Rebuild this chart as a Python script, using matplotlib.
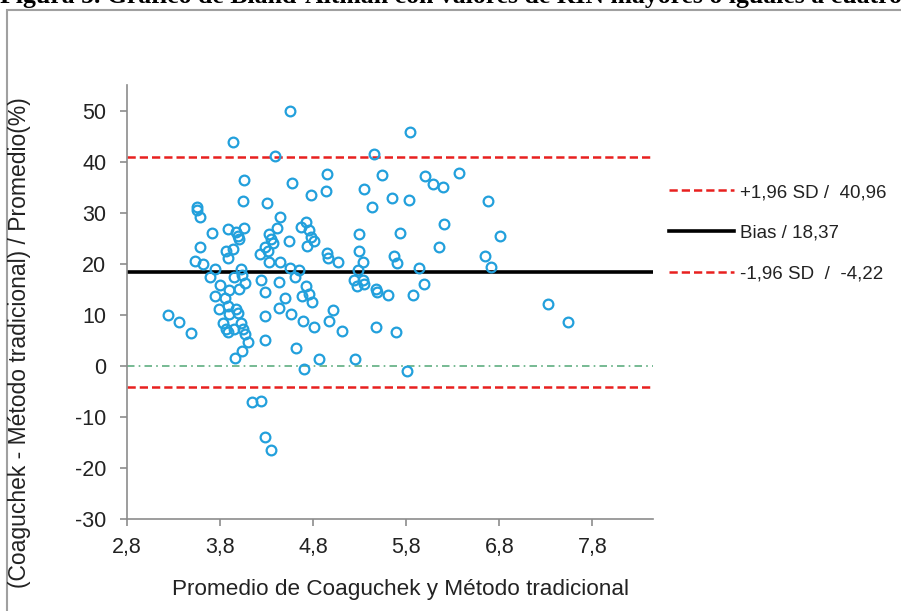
import numpy as np
import matplotlib
matplotlib.use("Agg")
import matplotlib.pyplot as plt
from matplotlib.patches import Rectangle

plt.rcParams['font.family'] = ['Liberation Sans', 'DejaVu Sans']

# promedio de ambos metodos (x) y diferencia porcentual (y)
promedio = [4.55, 3.94, 4.39, 5.45, 5.84, 4.06, 4.57, 4.95, 4.94, 4.78,
            5.35, 5.54, 5.65, 5.43, 5.83, 6.00, 6.09, 6.19, 6.37, 6.68,
            4.05, 4.30, 3.55, 3.55, 3.58, 4.44, 4.72, 4.67, 4.76, 4.78,
            4.81, 4.73, 4.54, 4.41, 4.33, 4.35, 4.37, 4.28, 4.23, 4.31,
            4.33, 4.44, 4.06, 3.88, 3.97, 3.99, 4.00, 3.71, 3.58, 3.94,
            3.86, 3.88, 3.53, 3.62, 6.21, 6.81, 5.29, 5.73, 6.15, 5.29,
            5.67, 5.70, 4.95, 4.96, 5.07, 5.34, 6.65, 6.71,
            3.74, 3.69, 4.02, 4.04, 3.95, 4.55, 4.60, 4.65, 5.94, 5.28,
            5.24, 5.33, 5.27, 5.35, 5.47, 5.49, 5.60, 5.87, 5.99, 4.24,
            4.43, 4.72, 4.07, 3.80, 4.00, 3.90,
            3.74, 3.85, 3.79, 3.88, 3.97, 3.90, 3.99, 3.83, 3.86, 3.88,
            3.95, 4.02, 4.05, 4.07, 4.10, 4.03, 3.96, 3.24, 3.36, 3.49,
            4.28, 4.50, 4.43, 4.56, 4.69, 4.28, 4.28, 4.61, 4.70, 4.68,
            4.76, 4.79, 5.01, 4.81, 4.97, 5.11, 4.86, 5.25, 5.47, 5.69,
            5.81, 7.32, 7.54, 4.14, 4.24, 4.28, 4.35]
diferencia = [49.9, 43.9, 41.0, 41.5, 45.8, 36.3, 35.9, 37.6, 34.3, 33.4,
              34.6, 37.4, 32.9, 31.1, 32.4, 37.1, 35.6, 35.0, 37.8, 32.2,
              32.3, 31.9, 31.1, 30.6, 29.1, 29.1, 28.1, 27.2, 26.6, 25.3,
              24.4, 23.5, 24.5, 26.9, 25.8, 24.9, 24.0, 23.3, 21.9, 22.4,
              20.3, 20.3, 27.0, 26.8, 26.2, 25.5, 24.9, 26.0, 23.2, 22.9,
              22.4, 21.2, 20.5, 20.0, 27.8, 25.4, 25.9, 26.0, 23.2, 22.4,
              21.6, 20.2, 22.0, 21.1, 20.3, 20.3, 21.6, 19.4,
              18.9, 17.4, 18.9, 17.8, 17.4, 19.2, 17.3, 18.8, 19.1, 18.7,
              16.8, 16.9, 15.7, 16.1, 15.1, 14.4, 13.8, 13.8, 16.1, 16.8,
              16.5, 15.6, 16.2, 15.9, 15.1, 14.9,
              13.7, 13.3, 11.1, 11.7, 11.2, 10.2, 10.4, 8.4, 7.3, 6.6,
              7.3, 8.4, 7.2, 6.3, 4.6, 3.0, 1.5, 10.0, 8.5, 6.4,
              14.5, 13.2, 11.3, 10.2, 8.7, 9.8, 5.0, 3.5, -0.6, 13.6,
              14.1, 12.5, 11.0, 7.6, 8.7, 6.9, 1.3, 1.3, 7.7, 6.6,
              -1.1, 12.1, 8.6, -7.0, -6.8, -13.9, -16.5]

sesgo = 18.37
lim_sup = 40.96
lim_inf = -4.22

xticks = [2.8, 3.8, 4.8, 5.8, 6.8, 7.8]
yticks = [-30, -20, -10, 0, 10, 20, 30, 40, 50]

fig = plt.figure(figsize=(9.01, 6.11), dpi=100)
ax = fig.add_axes([127/901, 1-519/611, (653-127)/901, (519-85)/611])

gris = '#8c8c8c'

ax.axhline(0, color='#5fae80', lw=1.2, ls=(0, (4.5, 2.5, 1, 2.5)), zorder=1)
l1, = ax.plot([2.8, 8.45], [lim_sup, lim_sup], color='#e8201f', lw=1.8,
              ls=(0, (3.3, 1.6)), zorder=2)
l2, = ax.plot([2.8, 8.45], [sesgo, sesgo], color='black', lw=2.6, zorder=2)
l3, = ax.plot([2.8, 8.45], [lim_inf, lim_inf], color='#e8201f', lw=1.8,
              ls=(0, (3.3, 1.6)), zorder=2)

ax.plot(promedio, diferencia, 'o', ms=7, mfc='none', mec='#22a0dc', mew=1.6,
        zorder=3)

ax.set_xlim(2.8, 8.45)
ax.set_ylim(-30, 55)
ax.set_xticks(xticks)
ax.set_xticklabels([str(v).replace('.', ',') for v in xticks])
ax.set_yticks(yticks)
ax.set_yticklabels([str(v) for v in yticks])

for s in ['top', 'right']:
    ax.spines[s].set_visible(False)
for s in ['left', 'bottom']:
    ax.spines[s].set_color(gris)
    ax.spines[s].set_linewidth(1.2)
ax.tick_params(axis='both', colors=gris, labelcolor='#222222', labelsize=15.5,
               length=5, width=1.2, direction='out')
ax.tick_params(axis='x', pad=8)
ax.tick_params(axis='y', pad=10)

fig.text(20/901, 1-343/611, '(Coaguchek - Método tradicional) / Promedio(%)',
         rotation=90, ha='center', va='center', fontsize=16.5, color='#222222')
fig.text(400/901, 1-590/611, 'Promedio de Coaguchek y Método tradicional',
         ha='center', va='center', fontsize=16.2, color='#222222')

leg = ax.legend([l1, l2, l3], ['+1,96 SD /  40,96', 'Bias / 18,37',
                               '-1,96 SD  /  -4,22'],
                loc='center left', bbox_to_anchor=(652/901, 1-233/611),
                bbox_transform=fig.transFigure, frameon=False, fontsize=13.5,
                handlelength=3.47, handletextpad=0.3, labelspacing=1.25)
for t in leg.get_texts():
    t.set_color('#222222')

# marco y pie de figura recortado
fig.patches.append(Rectangle((7/901, -0.1), 1.0, 1.1 - 10/611,
                             transform=fig.transFigure, fill=False,
                             edgecolor='#a0a0a0', lw=1.5))
fig.text(0.0, 1-3/611,
         'Figura 5. Gráfico de Bland-Altman con valores de RIN mayores o iguales a cuatro',
         family=['Liberation Serif', 'DejaVu Serif'], fontweight='bold',
         fontsize=18.5, ha='left', va='baseline')

fig.savefig('out.png', dpi=100)
